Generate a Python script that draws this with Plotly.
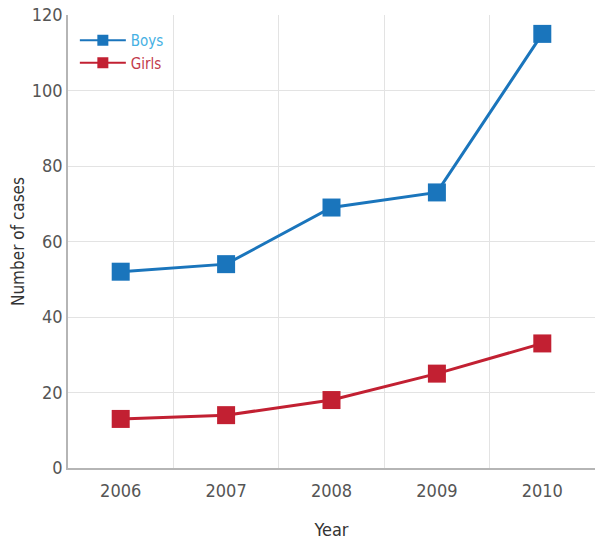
import plotly.graph_objects as go

years = ["2006", "2007", "2008", "2009", "2010"]
boys = [52, 54, 69, 73, 115]
girls = [13, 14, 18, 25, 33]
y_ticks = [0, 20, 40, 60, 80, 100, 120]

FONT = "DejaVu Sans Condensed, Liberation Sans Narrow, sans-serif"
BLUE = "#1a75bc"
RED = "#c22032"

fig = go.Figure()
fig.add_trace(go.Scatter(
    x=years, y=boys, name="Boys", mode="lines+markers", showlegend=False,
    line=dict(color=BLUE, width=3),
    marker=dict(symbol="square", size=18, color=BLUE),
))
fig.add_trace(go.Scatter(
    x=years, y=girls, name="Girls", mode="lines+markers", showlegend=False,
    line=dict(color=RED, width=3),
    marker=dict(symbol="square", size=18, color=RED),
))
# legend entries with smaller markers
fig.add_trace(go.Scatter(
    x=[None], y=[None], mode="lines+markers",
    name="<span style='color:#45b0e3'>Boys</span>",
    line=dict(color=BLUE, width=2),
    marker=dict(symbol="square", size=11, color=BLUE),
))
fig.add_trace(go.Scatter(
    x=[None], y=[None], mode="lines+markers",
    name="<span style='color:#c23a4a'>Girls</span>",
    line=dict(color=RED, width=2),
    marker=dict(symbol="square", size=11, color=RED),
))

fig.update_layout(
    width=600, height=547,
    margin=dict(l=68, r=5, t=15, b=79),
    plot_bgcolor="white", paper_bgcolor="white",
    font=dict(family=FONT, size=17, color="#444"),
    showlegend=True,
    legend=dict(
        x=0.013, y=0.98, xanchor="left", yanchor="top",
        bgcolor="rgba(0,0,0,0)", font=dict(size=15),
        tracegroupgap=0, itemsizing="trace", itemwidth=46,
    ),
    xaxis=dict(
        type="category", range=[-0.5, 4.5], automargin=False,
        tickson="boundaries", ticks="", showgrid=True, gridcolor="#e3e3e3",
        showline=True, linecolor="#b5b5b5", linewidth=1.5,
        ticklabelstandoff=6,
        title=dict(text="Year", standoff=23, font=dict(size=18, color="#333")),
        tickfont=dict(size=18, color="#555"),
    ),
    yaxis=dict(
        range=[0, 120], tickvals=y_ticks, showgrid=True, gridcolor="#e3e3e3",
        showline=True, linecolor="#b5b5b5", linewidth=1.5, ticks="",
        zeroline=False, automargin=False,
        title=dict(text="Number of cases", standoff=3, font=dict(size=17, color="#333")),
        tickfont=dict(size=18, color="#555"),
    ),
)

fig.write_html("out.html", config={"displayModeBar": False},
               post_script="document.body.style.margin='0';")
